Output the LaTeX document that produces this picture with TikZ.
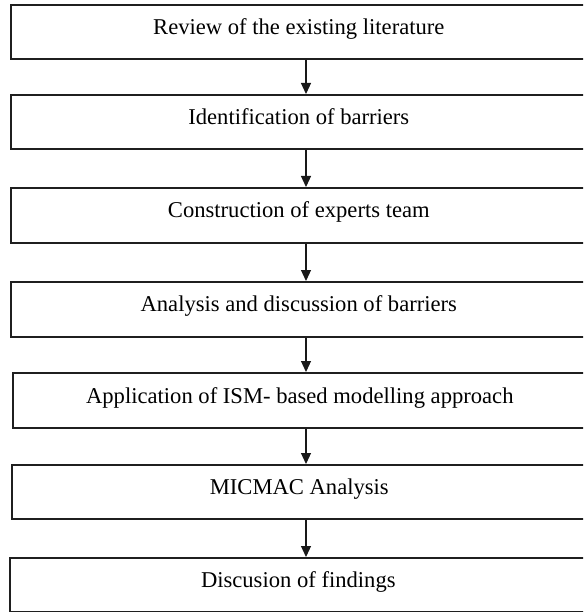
\documentclass[tikz,border=0pt]{standalone}
\usepackage{fontspec}
\setmainfont{Liberation Serif}
\usetikzlibrary{arrows.meta}

\tikzset{
  stage/.style={draw=black!88, line width=1.6pt, anchor=north west,
    minimum width=576pt, minimum height=54pt, inner sep=0pt,
    text height=17pt, text depth=12pt,
    font=\fontsize{22.6}{26}\selectfont},
  flow/.style={draw=black!90, line width=1.2pt,
    -{Triangle[width=10pt,length=11pt]}}
}

\begin{document}
\begin{tikzpicture}[x=1pt,y=-1pt]
  \useasboundingbox (0,0) rectangle (583,612);
  \clip (0,0) rectangle (583,612);
  \fill[white] (0,0) rectangle (583,612);

  % process stages, top to bottom
  \node[stage] (s1) at (10,4)   {Review of the existing literature};
  \node[stage] (s2) at (10,94)  {Identification of barriers};
  \node[stage, minimum height=55pt] (s3) at (10,187) {Construction of experts team};
  \node[stage, minimum height=55pt] (s4) at (10,281) {Analysis and discussion of barriers};
  \node[stage, minimum height=55pt, minimum width=574pt, text height=18pt, text depth=11pt] (s5) at (12,372) {Application of ISM- based modelling approach};
  \node[stage, minimum width=575pt] (s6) at (11,464) {MICMAC Analysis};
  \node[stage, minimum width=577pt] (s7) at (9,557)  {Discusion of findings};

  % vertical line carrying the arrows
  \coordinate (ax) at (306,0);

  \draw[flow] (s1.south -| ax) -- (s2.north -| ax);
  \draw[flow] (s2.south -| ax) -- (s3.north -| ax);
  \draw[flow] (s3.south -| ax) -- (s4.north -| ax);
  \draw[flow] (s4.south -| ax) -- (s5.north -| ax);
  \draw[flow] (s5.south -| ax) -- (s6.north -| ax);
  \draw[flow] (s6.south -| ax) -- (s7.north -| ax);
\end{tikzpicture}
\end{document}
